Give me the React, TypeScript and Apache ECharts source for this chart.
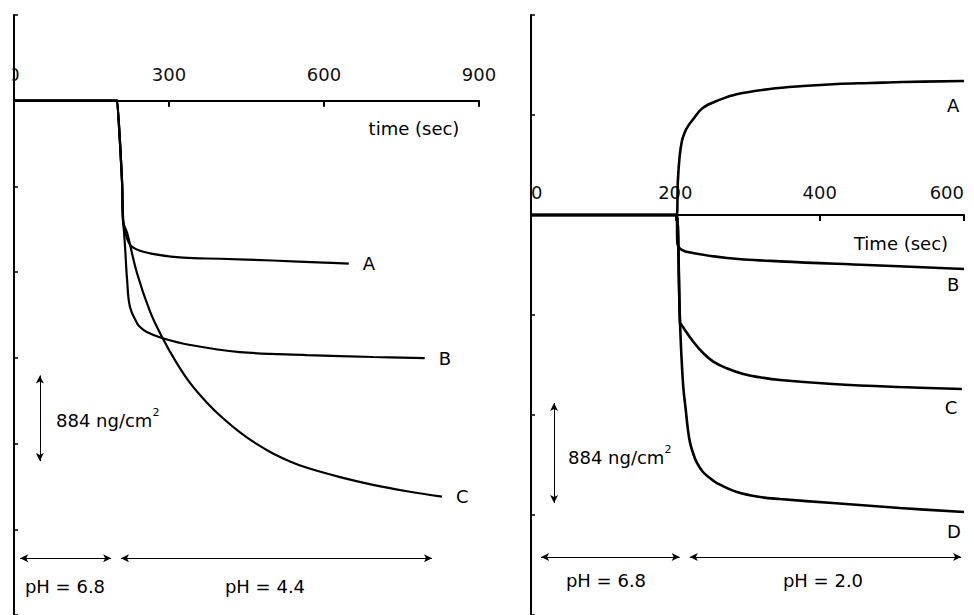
import React, { useEffect, useRef } from "react";
import * as echarts from "echarts";

// ---- Left panel (pH 6.8 -> 4.4) : time (s) vs mass change (ng/cm2) ----
const leftATime = [0, 200, 201, 209, 211, 219, 230, 263, 327, 399, 500, 600, 648];
const leftAVal = [0, 0, 0, -822, -1238, -1423, -1512, -1574, -1618, -1630, -1648, -1670, -1680];
const leftBTime = [0, 200, 201, 209, 211, 215, 219, 224.5, 238, 244, 257, 286, 341, 437, 567, 695, 795];
const leftBVal = [0, 0, 0, -822, -1185, -1512, -1856, -2128, -2293, -2334, -2386, -2447, -2519, -2592, -2623, -2643, -2654];
const leftCTime = [0, 200, 201, 209, 211, 219, 238, 263, 286.5, 313.5, 340.6, 373.5, 404.5, 437.4, 470.3, 501.3, 534.2, 567.1, 631, 694.8, 760.6, 828.4];
const leftCVal = [0, 0, 0, -822, -1238, -1364, -1777, -2170, -2437, -2693, -2910, -3114, -3275, -3420, -3542, -3638, -3720, -3786, -3882, -3962, -4028, -4084];

// ---- Right panel (pH 6.8 -> 2.0) ----
const rightATime = [0, 200, 202, 203.5, 206, 209, 213, 218, 224.5, 238, 262, 285, 331, 377, 424, 470, 516, 600];
const rightAVal = [0, 0, 0, 300, 520, 650, 730, 790, 845, 946, 1020, 1068, 1114, 1140, 1158, 1167, 1176, 1185];
const rightBTime = [0, 200, 202, 202.8, 209, 224.5, 272, 345, 466, 600];
const rightBVal = [0, 0, 0, -248, -309, -336, -380, -410, -442, -477];
const rightCTime = [0, 200, 202, 206.5, 207.9, 224.9, 238.8, 252.6, 271.2, 294.2, 317.3, 345, 418, 511, 597];
const rightCVal = [0, 0, 0, -955, -966, -1120, -1222, -1296, -1355, -1406, -1435, -1459, -1494, -1521, -1538];
const rightDTime = [0, 200, 202, 206.5, 210.6, 214.8, 217.5, 220.3, 224.5, 230, 238.3, 248, 257.7, 285.4, 317.3, 345, 418, 511, 600];
const rightDVal = [0, 0, 0, -955, -1485, -1745, -1900, -2010, -2104, -2192, -2272, -2325, -2370, -2449, -2493, -2511, -2546, -2590, -2625];

const UNIT = 884; // ng/cm2 per y tick
const leftX = { min: 0, max: 900, interval: 300 };
const rightX = { min: 0, max: 600, interval: 200 };
const leftY = { min: -6 * UNIT, max: 1 * UNIT };
const rightY = { min: -4 * UNIT, max: 2 * UNIT };

const seriesLabels = ["A", "B", "C", "D"];
const phLabels = ["pH = 6.8", "pH = 4.4", "pH = 2.0"];
const timeTitles = ["time (sec)", "Time (sec)"];

const FONT = "DejaVu Sans";
const GRID_TOP = 15;
const GRID_H = 600;

const zip = (t: number[], v: number[]) => t.map((x, i) => [x, v[i]]);
const zeroOffset = (cfg: { min: number; max: number }) => -(GRID_H * cfg.max) / (cfg.max - cfg.min);

export default function App() {
  const ref = useRef<HTMLDivElement>(null);
  useEffect(() => {
    if (!ref.current) return;
    const chart = echarts.init(ref.current, undefined, { renderer: "svg" });

    const xAxisCommon = (idx: number, cfg: any, ycfg: any, margin: number, alignMin: string, alignMax: string) => ({
      type: "value",
      gridIndex: idx,
      position: "top",
      offset: zeroOffset(ycfg),
      min: cfg.min,
      max: cfg.max,
      interval: cfg.interval,
      axisLine: { show: true, onZero: false, lineStyle: { color: "#000", width: 2 } },
      axisTick: { show: true, inside: true, length: 6, lineStyle: { color: "#000", width: 2 } },
      axisLabel: {
        show: true,
        margin,
        color: "#111",
        fontSize: 18,
        fontFamily: FONT,
        alignMinLabel: alignMin,
        alignMaxLabel: alignMax,
      },
      splitLine: { show: false },
    });
    const yAxisCommon = (idx: number, cfg: any) => ({
      type: "value",
      gridIndex: idx,
      min: cfg.min,
      max: cfg.max,
      interval: UNIT,
      axisLine: { show: true, onZero: false, lineStyle: { color: "#000", width: 2 } },
      axisTick: { show: true, inside: true, length: 4, lineStyle: { color: "#000", width: 1.5 } },
      axisLabel: { show: false },
      splitLine: { show: false },
    });

    const labelStyle = { color: "#000", fontSize: 18, fontFamily: FONT };
    const arrowMark = (lines: number[][][]) => ({
      silent: true,
      symbol: ["arrow", "arrow"],
      symbolSize: [6, 8],
      lineStyle: { color: "#000", width: 1, type: "solid" },
      label: { show: false },
      emphasis: { disabled: true },
      data: lines.map((l) => [{ coord: l[0] }, { coord: l[1] }]),
    });

    const leftSeries = (name: string, t: number[], v: number[], mark?: any) => ({
      type: "line",
      name,
      xAxisIndex: 0,
      yAxisIndex: 0,
      data: zip(t, v),
      showSymbol: false,
      smooth: 0.4,
      lineStyle: { color: "#000", width: 2.2 },
      endLabel: { show: true, formatter: name, distance: 14, ...labelStyle },
      markLine: mark,
    });
    const rightSeries = (name: string, t: number[], v: number[], dy: number, mark?: any) => ({
      type: "line",
      name,
      xAxisIndex: 1,
      yAxisIndex: 1,
      data: zip(t, v),
      showSymbol: false,
      smooth: 0.4,
      lineStyle: { color: "#000", width: 2.6 },
      endLabel: { show: true, formatter: name, offset: [-25, dy], ...labelStyle },
      markLine: mark,
    });

    const leftArrows = arrowMark([
      [[12, -4720], [188, -4720]],
      [[207, -4720], [809, -4720]],
      [[50, -2833], [50, -2833 - UNIT]],
    ]);
    const rightArrows = arrowMark([
      [[14, -3023], [206, -3023]],
      [[220, -3023], [596, -3023]],
      [[32, -1662], [32, -1662 - UNIT]],
    ]);

    const unitText = (x: number, y: number) => ({
      type: "text",
      x,
      y,
      style: {
        text: "{m|884 ng/cm}{s|2}",
        verticalAlign: "middle",
        align: "left",
        rich: {
          m: { fontSize: 18, fontFamily: FONT, fill: "#000", lineHeight: 22, verticalAlign: "bottom" },
          s: { fontSize: 11, fontFamily: FONT, fill: "#000", lineHeight: 22, verticalAlign: "top" },
        },
      },
    });
    const plainText = (text: string, x: number, y: number) => ({
      type: "text",
      x,
      y,
      style: { text, fontSize: 18, fontFamily: FONT, fill: "#000", align: "center", verticalAlign: "middle" },
    });

    chart.setOption({
      animation: false,
      backgroundColor: "#fff",
      grid: [
        { left: 14, top: GRID_TOP, width: 465, height: GRID_H, containLabel: false, outerBoundsMode: "none" },
        { left: 531, top: GRID_TOP, width: 433, height: GRID_H, containLabel: false, outerBoundsMode: "none" },
      ],
      xAxis: [
        xAxisCommon(0, leftX, leftY, 17, "center", "center"),
        xAxisCommon(1, rightX, rightY, 14, "left", "right"),
      ],
      yAxis: [yAxisCommon(0, leftY), yAxisCommon(1, rightY)],
      series: [
        leftSeries(seriesLabels[0], leftATime, leftAVal, leftArrows),
        leftSeries(seriesLabels[1], leftBTime, leftBVal),
        leftSeries(seriesLabels[2], leftCTime, leftCVal),
        rightSeries(seriesLabels[0], rightATime, rightAVal, 25, rightArrows),
        rightSeries(seriesLabels[1], rightBTime, rightBVal, 16),
        rightSeries(seriesLabels[2], rightCTime, rightCVal, 19),
        rightSeries(seriesLabels[3], rightDTime, rightDVal, 20),
      ],
      graphic: [
        { type: "rect", shape: { x: 0, y: 60, width: 12.5, height: 30 }, style: { fill: "#fff" }, z: 100 },
        plainText(timeTitles[0], 414, 128),
        plainText(timeTitles[1], 901, 243),
        unitText(56, 418),
        unitText(568, 455),
        plainText(phLabels[0], 65, 586),
        plainText(phLabels[1], 265, 586),
        plainText(phLabels[0], 606, 580),
        plainText(phLabels[2], 823, 580),
      ],
    });
    return () => chart.dispose();
  }, []);
  return (
    <div
      ref={ref}
      style={{ position: "absolute", left: 0, top: 0, width: 974, height: 615, background: "#fff" }}
    />
  );
}
